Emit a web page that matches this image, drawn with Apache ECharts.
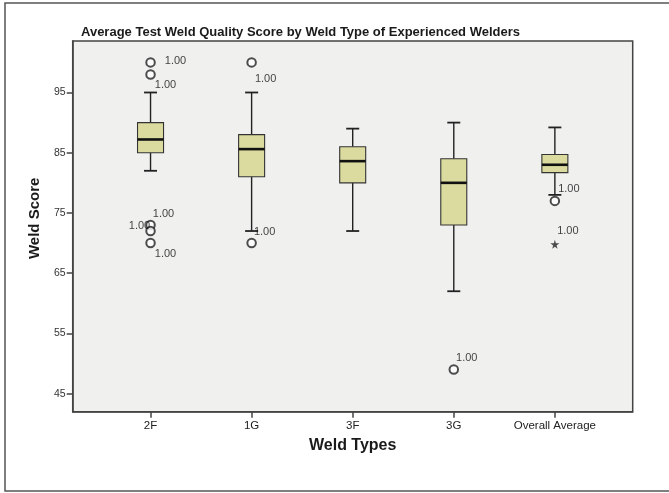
<!DOCTYPE html>
<html>
<head>
<meta charset="utf-8">
<script src="https://cdn.jsdelivr.net/npm/echarts@6/dist/echarts.min.js"></script>
<style>
html,body{margin:0;padding:0;background:#fff;}
#chart{width:669px;height:493px;}
</style>
</head>
<body>
<div id="chart"></div>
<script>
// ---- data ----
const categories = ['2F', '1G', '3F', '3G', 'Overall Average'];
const whiskerLow  = [82,   72,   72,   62,   78];
const q1          = [85,   81,   80,   73,   81.7];
const median      = [87.2, 85.6, 83.6, 80,   83];
const q3          = [90,   88,   86,   84,   84.7];
const whiskerHigh = [95,   95,   89,   90,   89.2];

const outlierCategory = [0, 0, 0, 0, 0, 1, 1, 3, 4];
const outlierValue    = [100, 98, 73, 72, 70, 100, 70, 49, 77];
const outlierLabel    = ['1.00', '1.00', '1.00', '1.00', '1.00', '1.00', '1.00', '1.00', '1.00'];

const extremeCategory = [4];
const extremeValue    = [69.8];
const extremeLabel    = ['1.00'];

const yTicks = [45, 55, 65, 75, 85, 95];
const xTicks = [0, 1, 2, 3, 4];

// label placement (style only)
const outlierLabelOffset = [[25, -1], [15, 11], [13, -11], [-11, -5], [15, 11], [14, 17], [13, -11], [13, -12], [14, -12]];
const extremeLabelOffset = [[13, -13]];

const FONT = '"Liberation Sans", Arial, sans-serif';
const chart = echarts.init(document.getElementById('chart'), null, {renderer: 'canvas'});

const boxData = categories.map((c, i) => [i, whiskerLow[i], q1[i], median[i], q3[i], whiskerHigh[i]]);

function renderBox(params, api) {
  const x = api.value(0);
  const pLow = api.coord([x, api.value(1)]);
  const pQ1 = api.coord([x, api.value(2)]);
  const pMed = api.coord([x, api.value(3)]);
  const pQ3 = api.coord([x, api.value(4)]);
  const pHigh = api.coord([x, api.value(5)]);
  const cx = pLow[0];
  const hb = 13, hc = 6.5;
  const lineStyle = {stroke: '#222', lineWidth: 1.4, fill: null};
  return {
    type: 'group',
    children: [
      {type: 'line', shape: {x1: cx, y1: pHigh[1], x2: cx, y2: pQ3[1]}, style: lineStyle},
      {type: 'line', shape: {x1: cx, y1: pQ1[1], x2: cx, y2: pLow[1]}, style: lineStyle},
      {type: 'line', shape: {x1: cx - hc, y1: pHigh[1], x2: cx + hc, y2: pHigh[1]}, style: {stroke: '#222', lineWidth: 1.8}},
      {type: 'line', shape: {x1: cx - hc, y1: pLow[1], x2: cx + hc, y2: pLow[1]}, style: {stroke: '#222', lineWidth: 1.8}},
      {type: 'rect', shape: {x: cx - hb, y: pQ3[1], width: 2 * hb, height: pQ1[1] - pQ3[1]},
        style: {fill: '#dcdb9f', stroke: '#333', lineWidth: 1.1}},
      {type: 'line', shape: {x1: cx - hb, y1: pMed[1], x2: cx + hb, y2: pMed[1]}, style: {stroke: '#111', lineWidth: 2.6}}
    ]
  };
}

const option = {
  backgroundColor: '#fff',
  animation: false,
  title: {
    text: 'Average Test Weld Quality Score by Weld Type of Experienced Welders',
    left: 81, top: 26, padding: 0,
    textStyle: {fontFamily: FONT, fontSize: 13, fontWeight: 'bold', color: '#1a1a1a'}
  },
  graphic: [{
    type: 'rect', shape: {x: 5, y: 3, width: 700, height: 488},
    style: {fill: null, stroke: '#555', lineWidth: 1.5}, silent: true, z: -1
  }],
  grid: {
    left: 72.7, right: 36.3, top: 41, bottom: 81.3,
    show: true, backgroundColor: '#f0f0ef', borderColor: '#444', borderWidth: 1.5
  },
  xAxis: {
    type: 'value', min: -0.77, max: 4.77,
    name: 'Weld Types', nameLocation: 'middle', nameGap: 26,
    nameTextStyle: {fontFamily: FONT, fontSize: 16, fontWeight: 'bold', color: '#1a1a1a'},
    axisLine: {show: true, onZero: false, lineStyle: {color: '#444', width: 1.5}},
    axisTick: {show: true, customValues: xTicks, length: 6, lineStyle: {color: '#444', width: 1.5}},
    axisLabel: {customValues: xTicks, formatter: v => categories[Math.round(v)], margin: 8,
      fontFamily: FONT, fontSize: 11.5, color: '#222'},
    splitLine: {show: false}
  },
  yAxis: {
    type: 'value', min: 42, max: 103.55,
    name: 'Weld Score', nameLocation: 'middle', nameGap: 30,
    nameTextStyle: {fontFamily: FONT, fontSize: 15, fontWeight: 'bold', color: '#1a1a1a', padding: [0, 0, 0, 16]},
    axisLine: {show: true, onZero: false, lineStyle: {color: '#444', width: 1.5}},
    axisTick: {show: true, customValues: yTicks, length: 6, lineStyle: {color: '#444', width: 1.5}},
    axisLabel: {customValues: yTicks, margin: 7, fontFamily: FONT, fontSize: 10.5, color: '#333'},
    splitLine: {show: false}
  },
  series: [
    {
      type: 'custom', renderItem: renderBox, data: boxData,
      encode: {x: 0, y: [1, 2, 3, 4, 5]}, z: 2
    },
    {
      type: 'scatter', symbol: 'emptyCircle', symbolSize: 8.5,
      itemStyle: {color: '#222', borderColor: '#222', borderWidth: 1.3},
      data: outlierValue.map((v, i) => ({
        value: [outlierCategory[i], v],
        label: {show: true, formatter: outlierLabel[i], position: 'inside', offset: outlierLabelOffset[i],
          fontFamily: FONT, fontSize: 11, color: '#111'}
      })),
      z: 3
    },
    {
      type: 'scatter',
      symbol: 'path://M50,0 L61,35 L98,35 L68,57 L79,91 L50,70 L21,91 L32,57 L2,35 L39,35 Z',
      symbolSize: 9,
      itemStyle: {color: '#222'},
      data: extremeValue.map((v, i) => ({
        value: [extremeCategory[i], v],
        label: {show: true, formatter: extremeLabel[i], position: 'inside', offset: extremeLabelOffset[i],
          fontFamily: FONT, fontSize: 11, color: '#111'}
      })),
      z: 3
    }
  ]
};
chart.setOption(option);
</script>
</body>
</html>
